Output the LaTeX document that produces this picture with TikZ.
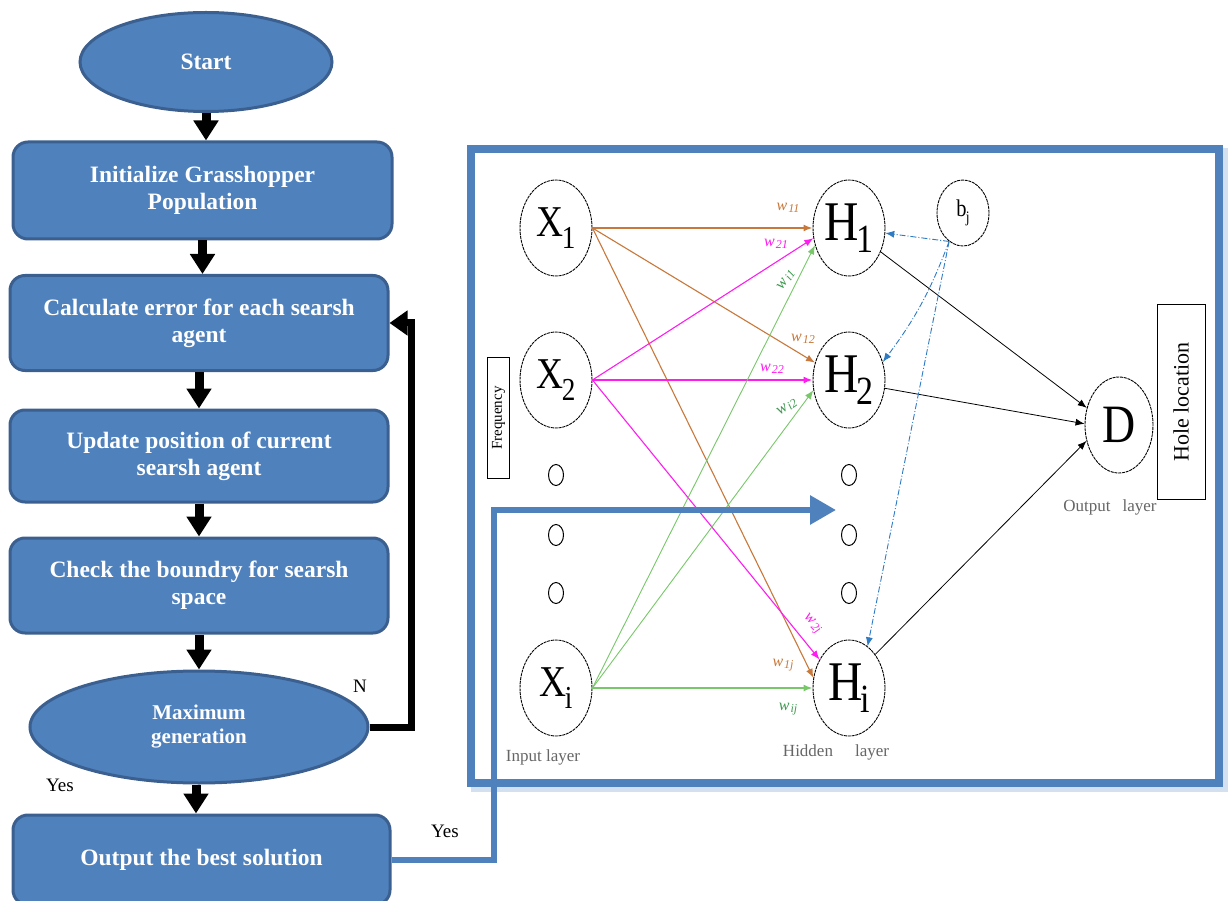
\documentclass[tikz,border=0pt]{standalone}
\usepackage{fontspec}
\setmainfont{Liberation Serif}
\usetikzlibrary{shapes.geometric,arrows.meta,calc}
\definecolor{fc}{HTML}{4F81BD}
\definecolor{bc}{HTML}{3B6090}
\definecolor{org}{HTML}{C8783A}
\definecolor{mag}{HTML}{FF1CF0}
\definecolor{grn}{HTML}{78C86A}
\definecolor{grt}{HTML}{3C9A4E}
\definecolor{bld}{HTML}{2E7BC4}
\newcommand{\fs}[1]{\fontsize{#1}{#1}\selectfont}
\newcommand{\neu}[5]{\scalebox{0.85}[1]{\fs{#3}#1\kern-0.04em\raisebox{-#5pt}{\fs{#4}#2}}}
\newcommand{\wl}[1]{\fs{16}\itshape w\kern1pt\raisebox{-2pt}{\fs{12}#1}}
\tikzset{
  proc/.style={draw=bc, fill=fc, line width=3pt, rounded corners=15pt, text=white,
    font=\fontsize{23.5}{27}\selectfont\bfseries, align=center, inner sep=0pt},
  term/.style={ellipse, draw=bc, fill=fc, line width=3pt, text=white,
    font=\fontsize{23.5}{27}\selectfont\bfseries, align=center, inner sep=0pt},
  flow/.style={line width=9pt, -{Triangle[width=24pt,length=20pt]}},
  loopline/.style={line width=7pt, -{Triangle[width=24pt,length=18pt]}},
  yesline/.style={line width=6pt, fc, -{Triangle[width=28pt,length=26pt]}},
  neuron/.style={ellipse, draw, dash pattern=on 3pt off 0.8pt, line width=0.9pt, minimum width=72pt,
    minimum height=96pt, inner sep=0pt},
  dotn/.style={ellipse, draw, line width=1pt, minimum width=15pt, minimum height=21pt, inner sep=0pt},
  ow/.style={org, line width=1.1pt, -{Latex[length=9pt,width=7pt]}},
  mw/.style={mag, line width=1.1pt, -{Latex[length=9pt,width=7pt]}},
  gw/.style={grn, line width=0.9pt, -{Latex[length=9pt,width=7pt]}},
  kw/.style={black, line width=0.8pt, -{Latex[length=9pt,width=7pt]}},
  bw/.style={bld, line width=0.9pt, dash pattern=on 6pt off 2pt on 1pt off 2pt, -{Latex[length=9pt,width=7pt]}},
  lab/.style={font=\fs{19}},
  glab/.style={font=\fs{17}, text=black!60},
}
\begin{document}
\begin{tikzpicture}[x=1pt,y=-1pt]
\useasboundingbox (0,0) rectangle (1229,901);
% ---------- flowchart ----------
\node[term, minimum width=252pt, minimum height=99pt] (start) at (206,62) {Start};
\node[proc, minimum width=379pt, minimum height=97pt] (init) at (202.5,190.5) {Initialize Grasshopper\\Population};
\node[proc, minimum width=378pt, minimum height=95pt] (calc) at (199,323) {Calculate error for each searsh\\agent};
\node[proc, minimum width=378pt, minimum height=92pt] (upd) at (199,456) {Update position of current\\searsh agent};
\node[proc, minimum width=378pt, minimum height=95pt] (chk) at (199,585.5) {Check the boundry for searsh\\space};
\node[term, minimum width=338pt, minimum height=112pt, font=\fontsize{21}{24}\selectfont\bfseries] (max) at (199,727) {Maximum\\generation};
\node[proc, minimum width=377pt, minimum height=90pt] (out) at (201.5,860) {Output the best solution};

\coordinate (mxs) at ($(max.south)+(-3,0)$);
\draw[flow] (start.south) -- (start.south |- init.north);
\draw[flow] (init.south) -- (init.south |- calc.north);
\draw[flow] (calc.south) -- (calc.south |- upd.north);
\draw[flow] (upd.south) -- (upd.south |- chk.north);
\draw[flow] (chk.south) -- (chk.south |- max.north);
\draw[flow] (mxs) -- (mxs |- out.north);
\coordinate (loopc) at ($(calc.east)+(22,0)$);
\draw[loopline] (max.east) -| (loopc) -- (calc.east);

\node[lab] (nlab) at (360,686) {N};
\node[lab] (yes1) at (60,785) {Yes};
\node[lab] (yes2) at (445,831) {Yes};

% ---------- network frame ----------
\draw[line width=9pt, fc!35, opacity=0.7] (475,153) rectangle (1223,787);
\fill[white] (475,153) rectangle (1215,779);
\draw[line width=8pt, fc] (471,149) rectangle (1219,783);

% neurons
\node[neuron, label=center:{\neu{X}{1}{44}{32}{12}}] (X1) at (556,228) {};
\node[neuron, label=center:{\neu{X}{2}{44}{32}{12}}] (X2) at (556,380) {};
\node[neuron, label=center:{\neu{X}{i}{44}{32}{12}}] (Xi) at (556,688) {};
\node[neuron, label=center:{\neu{H}{1}{56}{40}{12}}] (H1) at (849,228) {};
\node[neuron, label=center:{\neu{H}{2}{56}{40}{12}}] (H2) at (849,380) {};
\node[neuron, label=center:{\neu{H}{i}{56}{40}{12}}] (Hi) at (849,688) {};
\node[neuron, minimum width=52pt, minimum height=66pt, label=center:{\neu{b}{j}{24}{16}{6}}] (bj) at (963,213) {};
\node[neuron, minimum width=68pt, minimum height=96pt, label=center:{\scalebox{0.85}[1]{\fs{54}D}}] (D) at (1119,425) {};

\foreach \y [count=\k] in {475,535,593} {
  \node[dotn] (xd\k) at (556,\y) {};
  \node[dotn] (hd\k) at (849,\y) {};
}

% weighted connections
\draw[ow, line width=1.6pt] (X1.east) -- (H1.west);
\draw[ow] (X1.east) -- (H2.153);
\draw[ow] (X1.east) -- (Hi.164);
\draw[mw] (X2.east) -- (H1.196);
\draw[mw, line width=2.4pt] (X2.east) -- (H2.west);
\draw[mw] (X2.east) -- (Hi.136);
\draw[gw] (Xi.east) -- (H1.207);
\draw[gw] (Xi.east) -- (H2.196);
\draw[gw, line width=1.6pt] (Xi.east) -- (Hi.west);

\draw[kw] (H1.323) -- (D.152);
\draw[kw] (H2.347) -- (D.178);
\draw[kw] (Hi.52) -- (D.206);

\draw[bw] (bj.244) -- (H1.352);
\draw[bw] (bj.244) to[bend left=8] (H2.28);
\draw[bw] (bj.244) -- (Hi.66);

% weight labels
\node[org, inner sep=1pt] (l11) at (788,208) {\wl{11}};
\node[mag, inner sep=1pt] (l21) at (776,244) {\wl{21}};
\node[grt, rotate=55, inner sep=1pt] (li1) at (786,280) {\wl{i1}};
\node[org, inner sep=1pt] (l12) at (803,339) {\wl{12}};
\node[mag, inner sep=1pt] (l22) at (772,369) {\wl{22}};
\node[grt, rotate=35, inner sep=1pt] (li2) at (787,407) {\wl{i2}};
\node[mag, rotate=-45, inner sep=1pt] (l2j) at (812,624) {\wl{2j}};
\node[org, inner sep=1pt] (l1j) at (783,665) {\wl{1j}};
\node[grt, inner sep=1pt] (lij) at (788,709) {\wl{ij}};

% layer texts
\node[glab] (inl) at (543,757) {Input layer};
\node[glab] (hidl) at (836,752) {Hidden\hspace{22pt}layer};
\node[glab] (outl) at (1110,507) {Output\hspace{12pt}layer};
\node[draw, line width=1pt, rotate=90, minimum width=195pt, minimum height=48pt, font=\fs{22}] (hole) at (1181,402) {Hole location};
\node[draw, line width=1pt, rotate=90, minimum width=121pt, minimum height=22pt, inner sep=0pt, font=\fs{15}] (freq) at (498.5,418) {Frequency};

% yes connector into the network
\coordinate (ybend) at (494,510);
\coordinate (ytgt) at (836,510);
\draw[yesline] (out.east) -| (ybend) -- (ytgt);
\end{tikzpicture}
\end{document}
